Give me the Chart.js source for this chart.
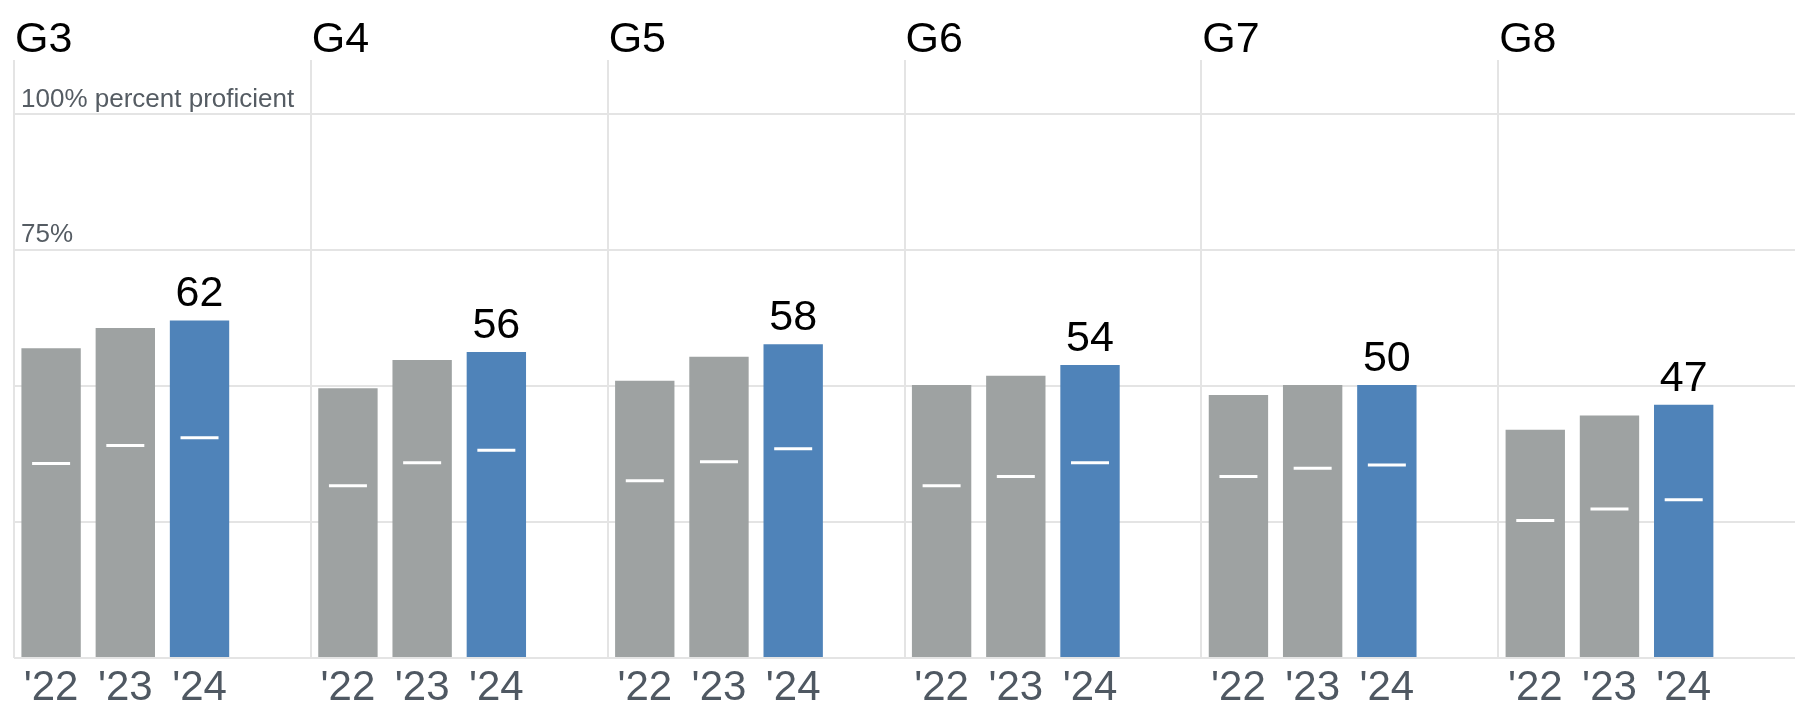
<!DOCTYPE html>
<html>
<head>
<meta charset="utf-8">
<script src="https://cdn.jsdelivr.net/npm/chart.js@4.4.1/dist/chart.umd.min.js"></script>
<style>
  html, body { margin: 0; padding: 0; background: #ffffff; }
  #wrap { width: 1795px; height: 708px; position: relative; }
</style>
</head>
<body>
<div id="wrap"><canvas id="gradesChart"></canvas></div>
<script>
// Panels and years
var grades = ["G3", "G4", "G5", "G6", "G7", "G8"];
var years = ["'22", "'23", "'24"];

// Percent proficient per grade (bar heights)
var proficient22 = [57.0, 49.6, 51.0, 50.2, 48.4, 42.0];
var proficient23 = [60.7, 54.8, 55.4, 51.9, 50.2, 44.6];
var proficient24 = [62.1, 56.3, 57.7, 53.9, 50.2, 46.6];

// White tick marks inside the bars
var marker22 = [35.8, 31.7, 32.6, 31.7, 33.4, 25.3];
var marker23 = [39.1, 35.9, 36.1, 33.4, 34.9, 27.4];
var marker24 = [40.5, 38.2, 38.5, 35.9, 35.5, 29.1];

// y axis ticks
var yTicks = [0, 25, 50, 75, 100];

var GRAY = "#9ea2a2";
var BLUE = "#4f83b9";
var GRID = "#e4e4e4";

// Each grade gets 4 slots: '22, '23, '24 and an empty gap
var labels = [];
var barValues = [];
var markerValues = [];
var barColors = [];
for (let g = 0; g < grades.length; g++) {
  var bars = [proficient22[g], proficient23[g], proficient24[g]];
  var marks = [marker22[g], marker23[g], marker24[g]];
  for (let j = 0; j < 3; j++) {
    labels.push(years[j]);
    barValues.push(bars[j]);
    markerValues.push(marks[j]);
    barColors.push(j === 2 ? BLUE : GRAY);
  }
  labels.push("");
  barValues.push(null);
  markerValues.push(null);
  barColors.push(GRAY);
}

// Grade titles above each panel
const panelTitles = {
  id: "panelTitles",
  afterDraw(chart) {
    const ctx = chart.ctx;
    const x = chart.scales.x;
    const half = (x.getPixelForValue(1) - x.getPixelForValue(0)) / 2;
    ctx.save();
    ctx.font = "43px 'Liberation Sans', Arial, sans-serif";
    ctx.fillStyle = "#000000";
    ctx.textAlign = "left";
    ctx.textBaseline = "alphabetic";
    grades.forEach(function (g, i) {
      ctx.fillText(g, x.getPixelForValue(i * 4) - half + 1, 52);
    });
    ctx.restore();
  },
};

// Value labels on the '24 bars
const valueLabels = {
  id: "valueLabels",
  afterDatasetsDraw(chart) {
    const ctx = chart.ctx;
    const meta = chart.getDatasetMeta(1);
    ctx.save();
    ctx.font = "43px 'Liberation Sans', Arial, sans-serif";
    ctx.fillStyle = "#000000";
    ctx.textAlign = "center";
    ctx.textBaseline = "alphabetic";
    meta.data.forEach(function (bar, i) {
      if (i % 4 !== 2) return;
      ctx.fillText(Math.round(barValues[i]), bar.x, bar.y - 14);
    });
    ctx.restore();
  },
};

new Chart(document.getElementById("gradesChart").getContext("2d"), {
  type: "bar",
  data: {
    labels: labels,
    datasets: [
      {
        type: "line",
        label: "marker",
        data: markerValues,
        showLine: false,
        pointStyle: "line",
        pointRadius: 19,
        pointHoverRadius: 19,
        pointBorderWidth: 3,
        borderColor: "#ffffff",
        backgroundColor: "#ffffff",
        order: 1,
      },
      {
        label: "percent proficient",
        data: barValues,
        backgroundColor: barColors,
        barPercentage: 0.8,
        categoryPercentage: 1.0,
        order: 2,
      },
    ],
  },
  options: {
    responsive: true,
    maintainAspectRatio: false,
    animation: false,
    layout: { autoPadding: false, padding: { top: 60, left: 0, right: 0, bottom: -10 } },
    plugins: {
      legend: { display: false },
      tooltip: { enabled: false },
    },
    scales: {
      x: {
        border: { display: false },
        grid: {
          drawTicks: false,
          lineWidth: 2,
          color: function (ctx) {
            return ctx.index !== undefined && ctx.index % 4 === 0 ? GRID : "rgba(0,0,0,0)";
          },
        },
        ticks: {
          autoSkip: false,
          maxRotation: 0,
          padding: 9,
          color: "#4f5862",
          font: { family: "'Liberation Sans', Arial, sans-serif", size: 42, lineHeight: 1.0 },
        },
      },
      y: {
        min: 0,
        max: 110,
        border: { display: false },
        afterBuildTicks: function (scale) {
          scale.ticks = yTicks.map(function (v) { return { value: v }; });
        },
        grid: { drawTicks: false, lineWidth: 2, color: GRID },
        ticks: {
          mirror: true,
          padding: 7,
          labelOffset: -15,
          color: "#555c63",
          font: { family: "'Liberation Sans', Arial, sans-serif", size: 26 },
          callback: function (value) {
            if (value === 100) return "100% percent proficient";
            if (value === 75) return "75%";
            return "";
          },
        },
      },
    },
  },
  plugins: [panelTitles, valueLabels],
});
</script>
</body>
</html>
